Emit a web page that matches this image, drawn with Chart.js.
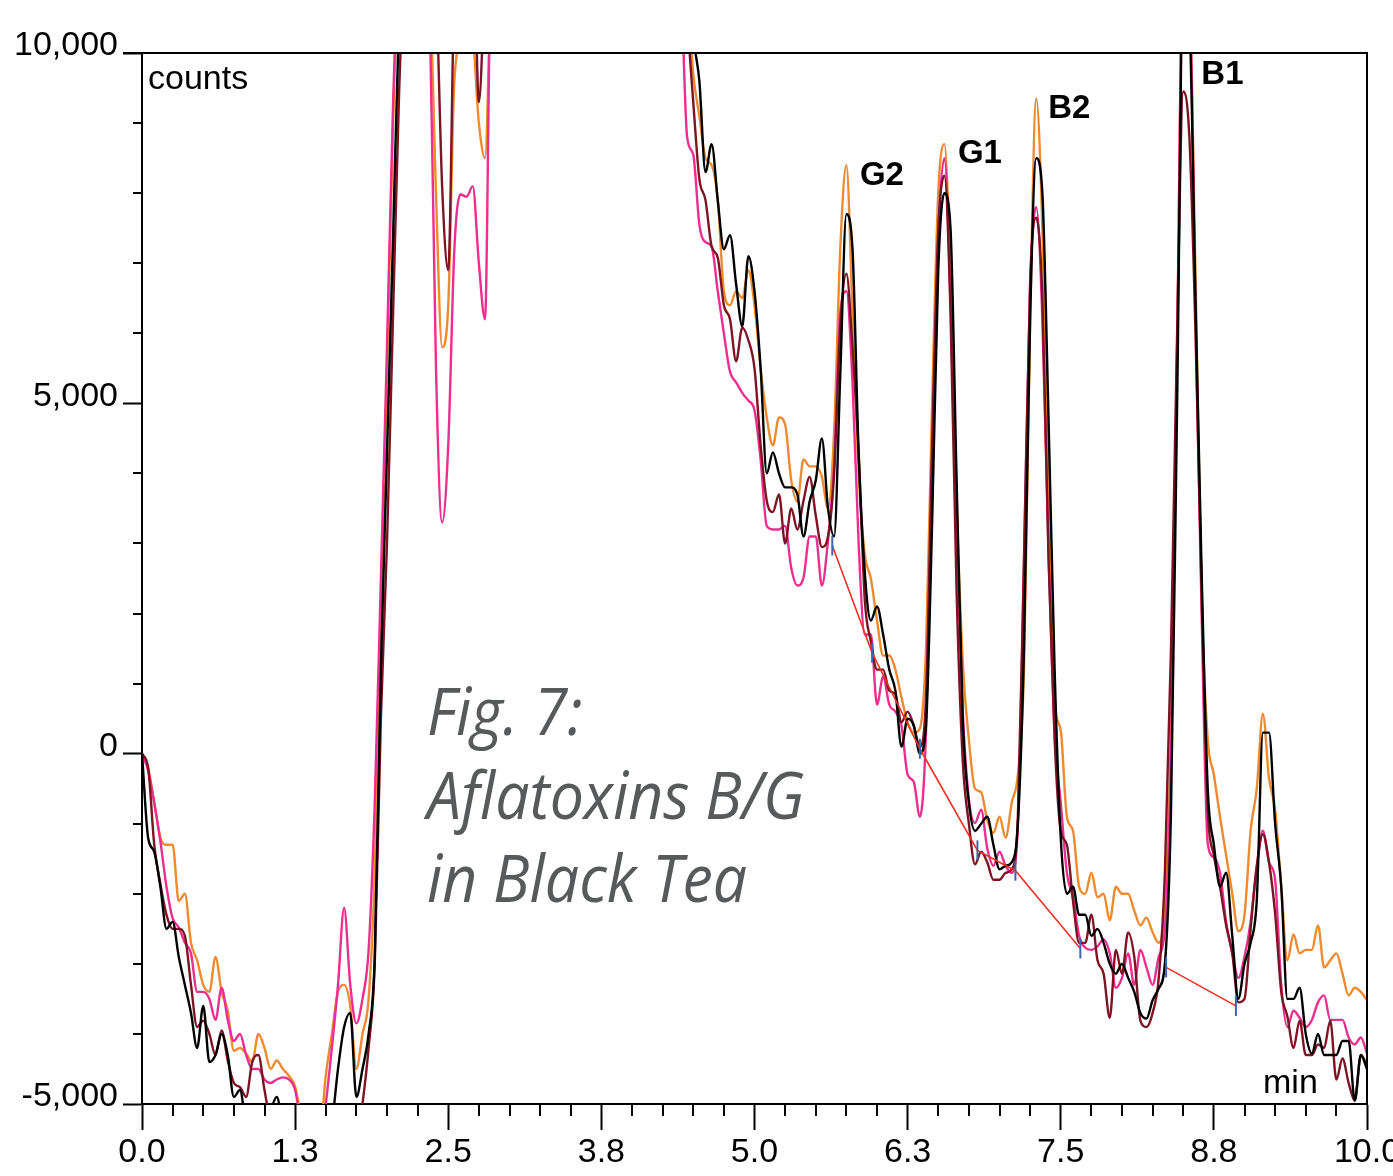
<!DOCTYPE html>
<html>
<head>
<meta charset="utf-8">
<title>Fig. 7: Aflatoxins B/G in Black Tea</title>
<script src="https://cdn.jsdelivr.net/npm/chart.js@4.4.1/dist/chart.umd.min.js"></script>
<style>
  html, body { margin: 0; padding: 0; background: #fff; }
  canvas { display: block; }
</style>
</head>
<body>
<canvas id="chromatogram" width="1393" height="1176"></canvas>
<script>
// detector samples every 0.05 min from 0 to 10 min
const sampleStep = 0.05;
const sampleCount = 201;

// counts per sample (values above 10,000 / below -5,000 run off the plot)
const blackCounts = [
  0, -1200, -1400, -1900, -2500, -2400, -2900, -3300, -3700, -4200,
  -3600, -4400, -4300, -4000, -4300, -4900, -4800, -5300, -5400, -5000,
  -5400, -5100, -4900, -5300, -5600, -5800, -5800, -5800, -5800, -5800,
  -5800, -5300, -4500, -3900, -3700, -4900, -4500, -4000, -2900, 1200,
  4300, 7400, 10600, 12000, 12000, 12000, 12000, 12000, 12000, 12000,
  12000, 12000, 12000, 12000, 12000, 12000, 12000, 12000, 12000, 12000,
  12000, 12000, 12000, 12000, 12000, 12000, 12000, 12000, 12000, 12000,
  12000, 12000, 12000, 12000, 12000, 12000, 12000, 12000, 12000, 12000,
  12000, 12000, 12000, 12000, 12000, 12000, 12000, 12000, 12000, 12000,
  10300, 9600, 8300, 8700, 7900, 7200, 7400, 6700, 6100, 7100,
  6600, 5500, 4000, 4300, 4000, 3800, 3800, 3700, 3100, 3600,
  3900, 4500, 3500, 3100, 5400, 7700, 7200, 4300, 2600, 1900,
  2100, 1700, 1200, 900, 100, 500, 400, 0, 400, 3300,
  6900, 8000, 7500, 3900, 500, -700, -1100, -1000, -900, -1300,
  -1650, -1600, -1550, -1000, 1500, 6200, 8500, 8000, 4800, 1200,
  -1200, -2000, -1900, -2300, -2300, -2600, -2500, -2700, -3000, -3140,
  -3000, -3200, -3400, -3700, -3780, -3520, -3350, -3000, -800, 5000,
  11000, 10500, 6500, 2600, -500, -1300, -1900, -1700, -2600, -3500,
  -3000, -2700, -2100, 300, 300, -1000, -1900, -3500, -3500, -3340,
  -4000, -4280, -4000, -4300, -4300, -4300, -4100, -4100, -4950, -4300,
  -4500
];

const orangeCounts = [
  0, -200, -700, -1200, -1300, -1300, -2100, -2000, -2700, -2950,
  -3300, -3400, -2900, -3400, -3670, -4240, -4200, -4280, -4400, -4000,
  -4200, -4500, -4380, -4500, -4600, -4750, -5200, -5600, -5600, -5500,
  -4600, -4000, -3400, -3300, -3600, -4500, -4000, -3500, -1700, 2000,
  5500, 9000, 11500, 12000, 12000, 12000, 12000, 11000, 8000, 5800,
  6400, 9600, 10100, 10000, 10100, 9000, 8500, 11000, 12000, 12000,
  12000, 12000, 12000, 12000, 12000, 12000, 12000, 12000, 12000, 12000,
  12000, 12000, 12000, 12000, 12000, 12000, 12000, 12000, 12000, 12000,
  12000, 12000, 12000, 12000, 12000, 12000, 12000, 12000, 12000, 11000,
  9700, 9100, 8500, 8400, 7900, 6600, 6400, 6600, 6500, 6900,
  6400, 5500, 4800, 4400, 4800, 4700, 3900, 3600, 4200, 4100,
  4100, 3950, 3500, 4600, 7200, 8400, 6300, 4000, 2850, 2500,
  1900, 1400, 1400, 1200, 800, 450, 300, 360, 1500, 5000,
  8000, 8700, 6800, 3600, 1300, 200, -500, -550, -950, -1130,
  -900, -1200, -700, -300, 1200, 6200, 9350, 7500, 3700, 740,
  330, -900, -1100, -1900, -2000, -1700, -2050, -2000, -2380, -1900,
  -2000, -2000, -2240, -2450, -2340, -2550, -2700, -2100, 300, 5800,
  11500, 11000, 6800, 2200, 200, -300, -900, -1450, -2000, -2530,
  -2300, -1100, -500, 570, -350, -800, -1900, -2950, -2580, -2850,
  -2800, -2800, -2450, -3050, -2950, -2850, -3140, -3450, -3340, -3400,
  -3520
];

const maroonCounts = [
  0, -200, -1300, -1860, -2300, -2500, -2500, -2600, -3300, -3900,
  -3810, -4000, -4300, -3950, -4380, -4700, -4760, -4900, -4400, -4300,
  -4800, -5200, -5100, -5300, -5800, -5800, -5800, -5800, -5800, -5800,
  -5800, -5800, -5800, -5800, -5800, -5600, -5000, -4200, -3000, 500,
  3000, 6300, 9500, 11500, 12000, 12000, 12000, 12000, 11000, 8100,
  6900, 11000, 12000, 12000, 12000, 9300, 11000, 12000, 12000, 12000,
  12000, 12000, 12000, 12000, 12000, 12000, 12000, 12000, 12000, 12000,
  12000, 12000, 12000, 12000, 12000, 12000, 12000, 12000, 12000, 12000,
  12000, 12000, 12000, 12000, 12000, 12000, 12000, 12000, 12000, 10500,
  9300, 8200, 7900, 7240, 7080, 6400, 6200, 5600, 6080, 5900,
  5500, 4400, 3610, 3450, 3700, 3000, 3500, 3200, 3610, 3950,
  3400, 2950, 3100, 4000, 6100, 6850, 5800, 4300, 2200, 1600,
  1200, 1200, 900, 850, 450, 600, 400, 100, 800, 4400,
  7450, 8250, 6300, 2300, -100, -1000, -1580, -1400, -1550, -1800,
  -1800, -1700, -1650, -900, 2800, 6700, 7650, 6500, 2800, 200,
  -1100, -1300, -2100, -2700, -2700, -2300, -2950, -3140, -3770, -2800,
  -3140, -2550, -2900, -3810, -3900, -3700, -3200, -1700, 1500, 6000,
  9450, 8800, 6000, 2300, -800, -1450, -1900, -2450, -2850, -3550,
  -3500, -2500, -1600, -1150, -1550, -2280, -3400, -3750, -4200, -3810,
  -4300, -4300, -4150, -4200, -3810, -4650, -4350, -4700, -4950, -4300,
  -4450
];

const pinkCounts = [
  0, -240, -700, -1250, -1900, -2350, -2480, -2700, -2850, -3400,
  -3400, -3500, -3800, -3340, -3800, -4100, -4000, -4300, -4500, -4500,
  -4650, -4700, -4650, -4620, -4650, -4800, -5300, -5600, -5600, -5600,
  -5000, -4200, -3300, -2200, -3300, -3850, -3500, -2800, -700, 2500,
  5800, 9300, 11500, 12000, 12000, 12000, 12000, 10500, 5500, 3300,
  4400, 7200, 7980, 7950, 8100, 7000, 6200, 11500, 12000, 12000,
  12000, 12000, 12000, 12000, 12000, 12000, 12000, 12000, 12000, 12000,
  12000, 12000, 12000, 12000, 12000, 12000, 12000, 12000, 12000, 12000,
  12000, 12000, 12000, 12000, 12000, 12000, 12000, 12000, 11000, 8800,
  8550, 7550, 7300, 7240, 6600, 6000, 5450, 5300, 5150, 5040,
  4900, 4200, 3250, 3200, 3200, 3250, 2650, 2400, 2510, 3100,
  3100, 2400, 3040, 4100, 6300, 6600, 5300, 3000, 1700, 1700,
  700, 1100, 700, 600, 400, -300, -400, -900, 300, 4100,
  7400, 8500, 6500, 3000, 600, -650, -990, -800, -1350, -1600,
  -1400, -1600, -1700, -1000, 2700, 6700, 7800, 6200, 2900, 300,
  -700, -1700, -2050, -2600, -2770, -2800, -2750, -2650, -2850, -3340,
  -3200, -2850, -3300, -2800, -3050, -3300, -2900, -2500, 0, 5800,
  11500, 11000, 6300, 2000, -1280, -1480, -1700, -2400, -2850, -3200,
  -2900, -2400, -1630, -1100, -1550, -1800, -3300, -3900, -3670, -3770,
  -3900, -3800, -3550, -3450, -3800, -3800, -3800, -4050, -4150, -4050,
  -4280
];

// integration baseline (null splits the two drawn segments)
const baselineTimes = [5.635, 5.96, 6.35, 6.82, 7.13, 7.66, 8.0, 8.36, 8.93];
const baselineCounts = [2970, 1440, 70, -1380, -1670, -2780, null, -3050, -3600];

const peakNames = ["G2", "G1", "B2", "B1"];
const peakLabelTimes = [6.04, 6.84, 7.57, 8.82];
const peakLabelCounts = [8250, 8560, 9200, 9690];

const xTickLabels = ["0.0", "1.3", "2.5", "3.8", "5.0", "6.3", "7.5", "8.8", "10.0"];
const yTickLabels = ["-5,000", "0", "5,000", "10,000"];

const titleLines = ["Fig. 7:", "Aflatoxins B/G", "in Black Tea"];

document.addEventListener("DOMContentLoaded", () => {
  const canvas = document.getElementById("chromatogram");
  const sampleTimes = Array.from({ length: sampleCount }, (_, i) => +(i * sampleStep).toFixed(2));
  const toPoints = (values) => values.map((v, i) => ({ x: sampleTimes[i], y: v }));
  const axisFont = { family: "'Liberation Sans', Arial, sans-serif", size: 34 };

  const trace = (label, values, color) => ({
    label: label,
    data: toPoints(values),
    borderColor: color,
    borderWidth: 2.4,
    pointRadius: 0,
    cubicInterpolationMode: "monotone",
    clip: 0,
  });

  // minor ticks, frame and the text that sits on the plot
  const decorPlugin = {
    id: "decor",
    afterDraw(chart) {
      const { ctx, chartArea, scales } = chart;
      const { left, right, top, bottom } = chartArea;
      ctx.save();
      ctx.strokeStyle = "#000";
      ctx.lineWidth = 2;
      ctx.beginPath();
      ctx.moveTo(left - 19, top);
      ctx.lineTo(right, top);
      ctx.lineTo(right, bottom);
      for (let v = 0.25; v < 10; v += 0.25) {
        if (Math.abs(v / 1.25 - Math.round(v / 1.25)) < 1e-6) continue;
        const px = Math.round(scales.x.getPixelForValue(v));
        ctx.moveTo(px, bottom);
        ctx.lineTo(px, bottom + 12);
      }
      for (let v = -4000; v < 10000; v += 1000) {
        if (v % 5000 === 0) continue;
        const py = Math.round(scales.y.getPixelForValue(v));
        ctx.moveTo(left - 9, py);
        ctx.lineTo(left, py);
      }
      ctx.stroke();

      ctx.fillStyle = "#000";
      ctx.font = "34px 'Liberation Sans', Arial, sans-serif";
      ctx.textAlign = "left";
      ctx.textBaseline = "alphabetic";
      ctx.fillText("counts", left + 6, top + 36);
      ctx.fillText("min", right - 104, bottom - 11);

      ctx.font = "bold 33px 'Liberation Sans', Arial, sans-serif";
      ctx.textAlign = "center";
      ctx.textBaseline = "middle";
      peakNames.forEach((name, i) => {
        ctx.fillText(name, scales.x.getPixelForValue(peakLabelTimes[i]), scales.y.getPixelForValue(peakLabelCounts[i]));
      });

      // title, a little narrower than Open Sans to follow the original face
      ctx.fillStyle = "#58595b";
      ctx.font = "italic 66px 'Open Sans', sans-serif";
      ctx.textAlign = "left";
      ctx.textBaseline = "alphabetic";
      ctx.translate(427, 0);
      ctx.scale(0.92, 1);
      titleLines.forEach((line, i) => {
        ctx.fillText(line, 0, 735 + i * 83.5);
      });
      ctx.restore();
    },
  };

  new Chart(canvas, {
    type: "line",
    data: {
      datasets: [
        {
          label: "baseline",
          data: baselineTimes.map((t, i) => ({ x: t, y: baselineCounts[i] })),
          borderColor: "#ee3124",
          borderWidth: 1.6,
          spanGaps: false,
          pointStyle: "line",
          pointRotation: 90,
          pointRadius: 10,
          pointBorderColor: "#3f63b0",
          pointBorderWidth: 2,
          clip: 0,
        },
        trace("black", blackCounts, "#000000"),
        trace("maroon", maroonCounts, "#7d1424"),
        trace("pink", pinkCounts, "#ec2f8e"),
        trace("orange", orangeCounts, "#ee8a2f"),
      ],
    },
    options: {
      responsive: false,
      animation: false,
      layout: { padding: { left: 0, right: 26, top: 53, bottom: 0 } },
      plugins: { legend: { display: false }, tooltip: { enabled: false } },
      scales: {
        x: {
          type: "linear",
          min: 0,
          max: 10,
          ticks: {
            stepSize: 1.25,
            autoSkip: false,
            maxRotation: 0,
            padding: 2,
            color: "#000",
            font: axisFont,
            callback: (value, index) => xTickLabels[index],
          },
          grid: { drawOnChartArea: false, color: "#000", tickLength: 26, tickWidth: 2 },
          border: { color: "#000", width: 2 },
          afterFit: (scale) => {
            scale.height = 72;
            scale.paddingLeft = 0;
            scale.paddingRight = 0;
          },
        },
        y: {
          min: -5000,
          max: 10000,
          ticks: {
            stepSize: 5000,
            padding: 5,
            labelOffset: -7,
            color: "#000",
            font: axisFont,
            callback: (value, index) => yTickLabels[index],
          },
          grid: { drawOnChartArea: false, color: "#000", tickLength: 19, tickWidth: 2 },
          border: { color: "#000", width: 2 },
          afterFit: (scale) => {
            scale.width = 142;
            scale.paddingTop = 0;
            scale.paddingBottom = 0;
          },
        },
      },
    },
    plugins: [decorPlugin],
  });
});
</script>
</body>
</html>
